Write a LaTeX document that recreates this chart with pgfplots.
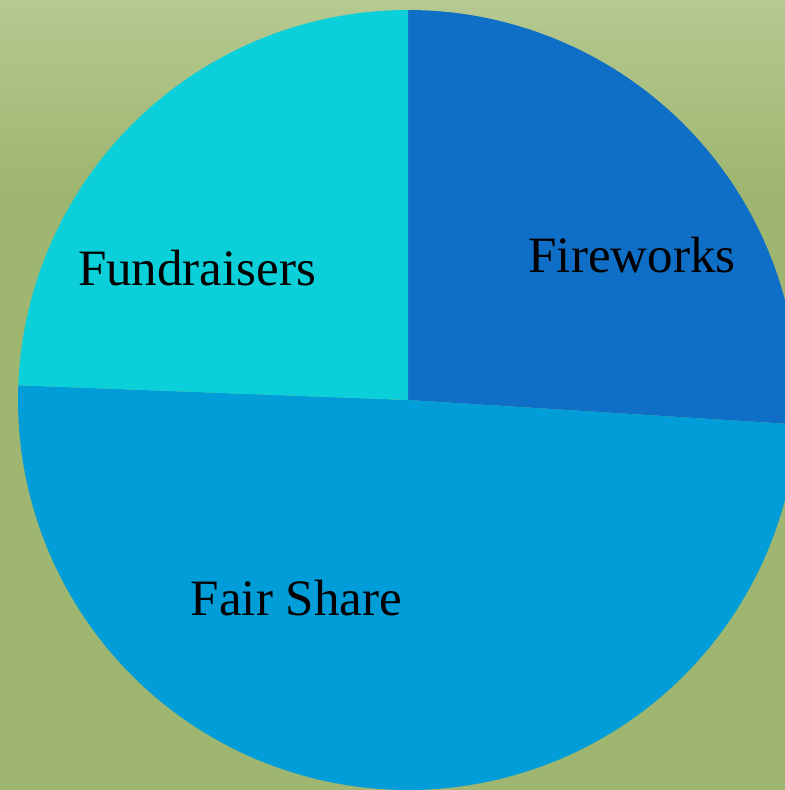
\documentclass[border=0pt]{standalone}
\usepackage{fontspec}
\setmainfont{Liberation Serif}
\usepackage{pgfplots}
\usepackage{pgfplotstable}
\pgfplotsset{compat=1.18}

\definecolor{bgtop}{RGB}{182,201,145}
\definecolor{bgbottom}{RGB}{158,182,111}
\definecolor{fireworks}{HTML}{0F6FC6}
\definecolor{fairshare}{HTML}{009DD9}
\definecolor{fundraisers}{HTML}{0BD0D9}

% share of each slice, in percent, clockwise from 12 o'clock
\pgfplotstableread{
label value
Fireworks 26.0
FairShare 49.6
Fundraisers 24.4
}\piedata

\pgfplotstablegetelem{0}{value}\of\piedata \let\vA\pgfplotsretval
\pgfplotstablegetelem{1}{value}\of\piedata \let\vB\pgfplotsretval
\pgfplotstablegetelem{2}{value}\of\piedata \let\vC\pgfplotsretval
\pgfmathsetmacro{\aA}{90}
\pgfmathsetmacro{\aB}{\aA-3.6*\vA}
\pgfmathsetmacro{\aC}{\aB-3.6*\vB}
\pgfmathsetmacro{\aD}{\aC-3.6*\vC}

\begin{document}
\begin{tikzpicture}
\useasboundingbox (0,0) rectangle (785bp,790bp);
\fill[bgbottom] (0,0) rectangle (785bp,790bp);
\shade[top color=bgtop, bottom color=bgbottom] (0,600bp) rectangle (785bp,790bp);
\begin{axis}[
    at={(0,0)}, anchor=south west,
    scale only axis,
    width=785bp, height=790bp,
    xmin=-408, xmax=377,
    ymin=-390, ymax=400,
    hide axis,
    clip=true,
]
\addplot[draw=none, fill=fireworks, data cs=polar, domain=\aB:\aA, samples=120] {390} -- (axis cs:0,0) -- cycle;
\addplot[draw=none, fill=fairshare, data cs=polar, domain=\aC:\aB, samples=200] {390} -- (axis cs:0,0) -- cycle;
\addplot[draw=none, fill=fundraisers, data cs=polar, domain=\aD:\aC, samples=120] {390} -- (axis cs:0,0) -- cycle;

\node[anchor=base, font=\fontsize{51bp}{55bp}\selectfont] at (axis cs:224,127) {Fireworks};
\node[anchor=base, font=\fontsize{51bp}{55bp}\selectfont] at (axis cs:-111.5,-216) {Fair Share};
\node[anchor=base, font=\fontsize{51bp}{55bp}\selectfont] at (axis cs:-211,114) {Fundraisers};
\end{axis}
\end{tikzpicture}
\end{document}
